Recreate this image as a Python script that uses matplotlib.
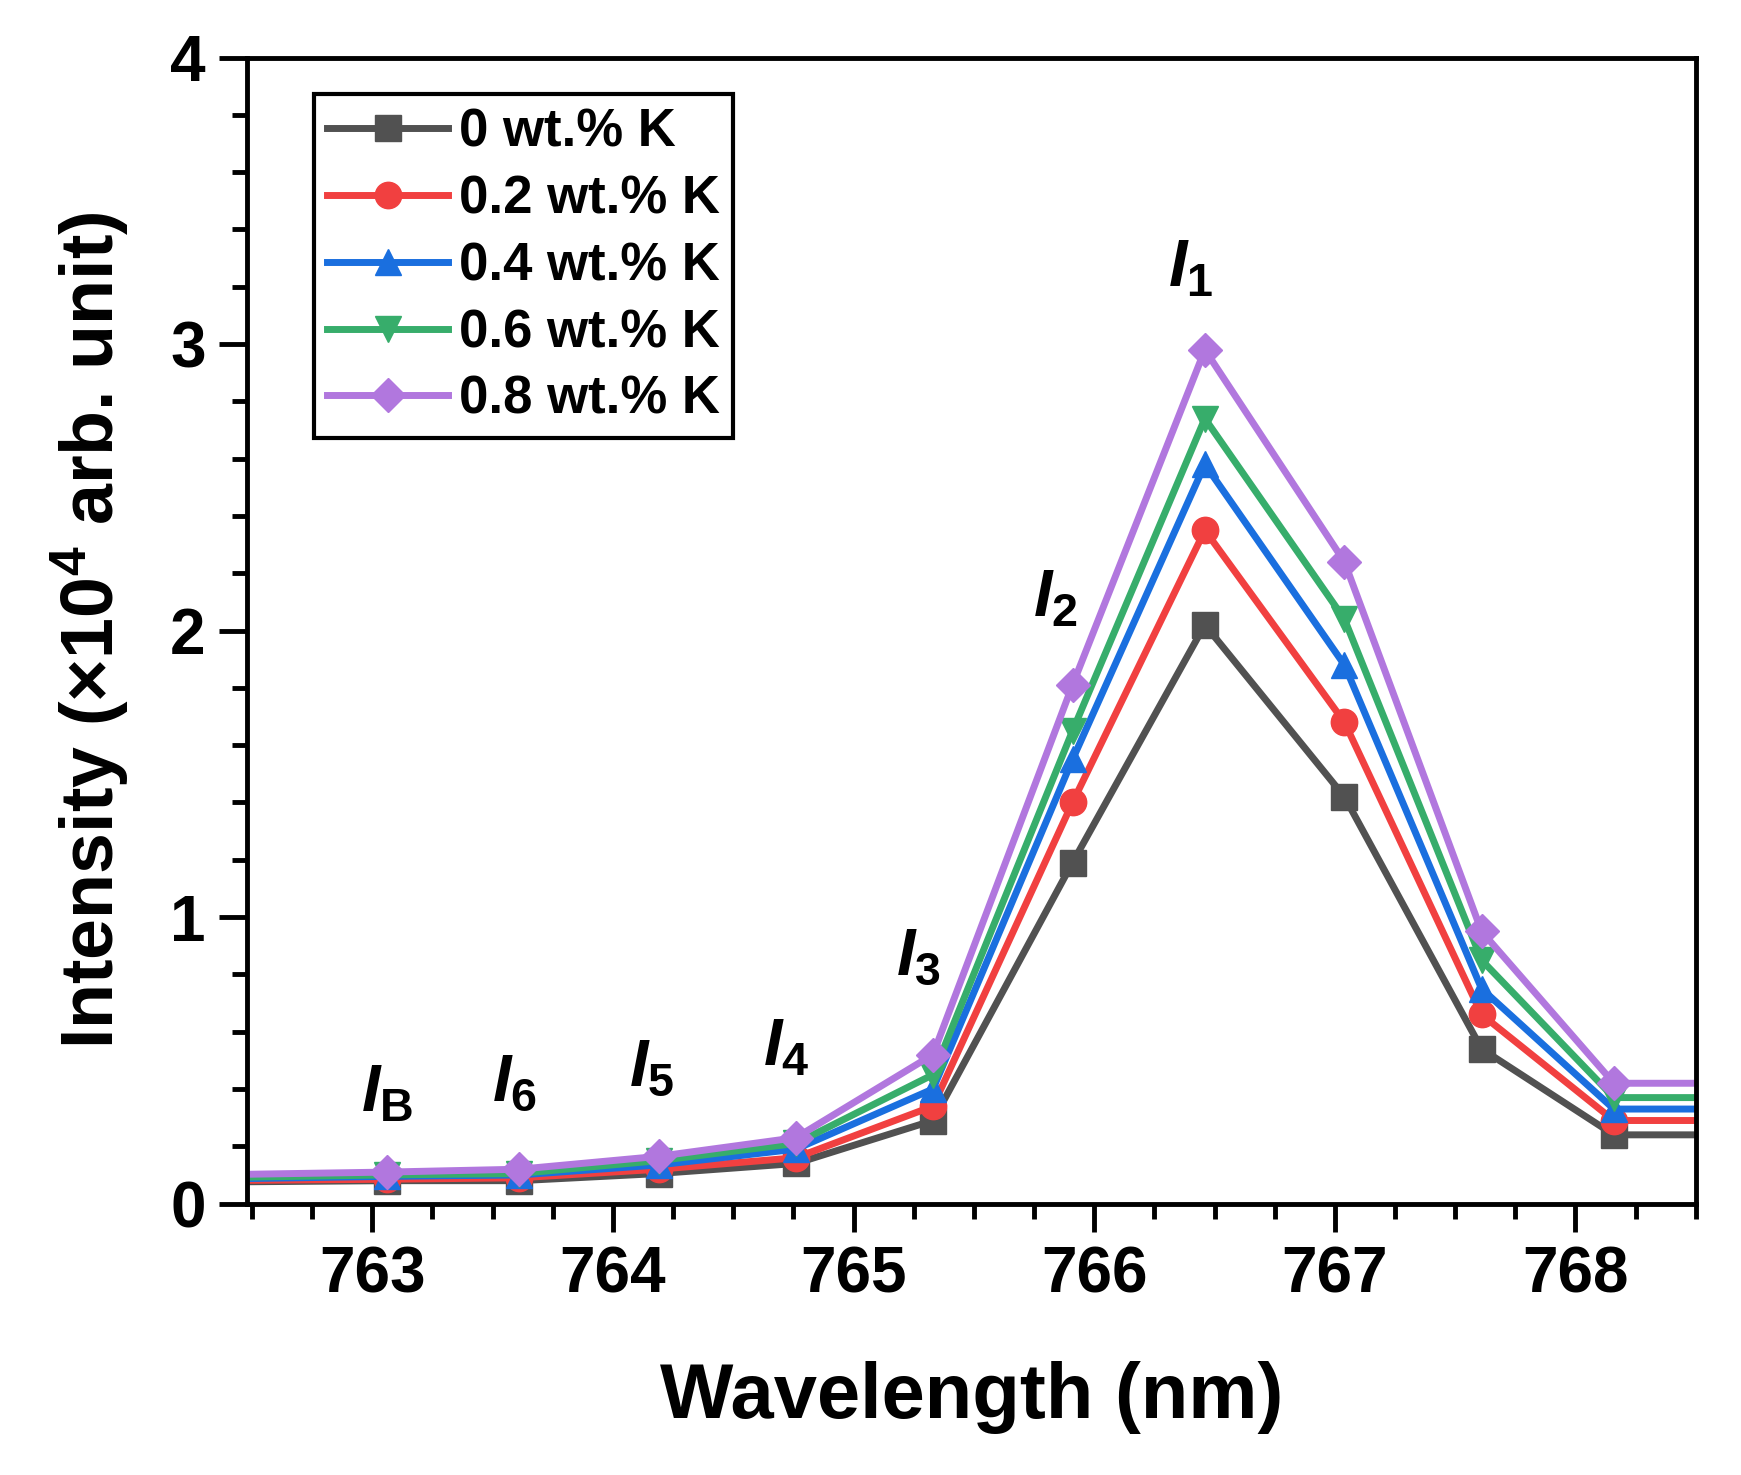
import matplotlib
matplotlib.use("Agg")
import matplotlib.pyplot as plt
from matplotlib.ticker import MultipleLocator

plt.rcParams['font.family'] = ['Liberation Sans', 'DejaVu Sans']
plt.rcParams['font.weight'] = 'bold'
plt.rcParams['mathtext.fontset'] = 'custom'
plt.rcParams['mathtext.rm'] = 'Liberation Sans:bold'
plt.rcParams['mathtext.it'] = 'Liberation Sans:bold:italic'
plt.rcParams['mathtext.bf'] = 'Liberation Sans:bold'

# wavelengths of the sampled points (nm); first/last extend to the frame edges
wavelength = [762.3, 763.06, 763.61, 764.19, 764.76, 765.33, 765.91, 766.46, 767.04, 767.61, 768.16, 768.8]

k0 = [0.075, 0.08, 0.08, 0.105, 0.14, 0.29, 1.19, 2.02, 1.42, 0.54, 0.24, 0.24]
k2 = [0.08, 0.085, 0.09, 0.12, 0.16, 0.34, 1.40, 2.35, 1.68, 0.66, 0.29, 0.29]
k4 = [0.085, 0.095, 0.10, 0.135, 0.19, 0.40, 1.55, 2.58, 1.88, 0.75, 0.33, 0.33]
k6 = [0.09, 0.10, 0.105, 0.15, 0.21, 0.45, 1.65, 2.74, 2.04, 0.85, 0.37, 0.37]
k8 = [0.10, 0.11, 0.12, 0.165, 0.23, 0.52, 1.81, 2.98, 2.24, 0.95, 0.42, 0.42]

labels = ['0 wt.% K', '0.2 wt.% K', '0.4 wt.% K', '0.6 wt.% K', '0.8 wt.% K']
colors = ['#515151', '#F14040', '#1A6FDF', '#37AD6B', '#B177DE']
markers = ['s', 'o', '^', 'v', 'D']

peak_names = [r'$I_{\mathrm{B}}$', r'$I_6$', r'$I_5$', r'$I_4$', r'$I_3$', r'$I_2$', r'$I_1$']
peak_x = [763.06, 763.59, 764.16, 764.72, 765.27, 765.84, 766.40]
peak_y = [0.38, 0.42, 0.47, 0.54, 0.86, 2.11, 3.26]

fig = plt.figure(figsize=(17.41, 14.75), dpi=100)
ax = fig.add_axes([0.142, 0.184, 0.832, 0.777])

for ys, lab, c, m in zip([k0, k2, k4, k6, k8], labels, colors, markers):
    ms = 17 if m == 'D' else 19
    ax.plot(wavelength, ys, color=c, marker=m, markersize=ms, linewidth=5, label=lab)

for name, x, y in zip(peak_names, peak_x, peak_y):
    ax.text(x, y, name, fontsize=48, ha='center', va='center')

ax.set_xlim(762.48, 768.5)
ax.set_ylim(0, 4)
ax.xaxis.set_major_locator(MultipleLocator(1))
ax.xaxis.set_minor_locator(MultipleLocator(0.25))
ax.yaxis.set_major_locator(MultipleLocator(1))
ax.yaxis.set_minor_locator(MultipleLocator(0.2))
ax.tick_params(which='both', direction='out', width=3.5, labelsize=46, pad=10)
ax.tick_params(which='major', length=20)
ax.tick_params(which='minor', length=11)
for s in ax.spines.values():
    s.set_linewidth(3.5)

ax.set_xlabel('Wavelength (nm)', fontsize=56, fontweight='bold', labelpad=40)
ax.set_ylabel(r'Intensity ($\times$10$^{4}$ arb. unit)', fontsize=53, fontweight='bold', labelpad=28)

leg = ax.legend(loc='upper left', bbox_to_anchor=(0.046, 0.968), borderaxespad=0,
                fontsize=38, handlelength=2.3, handletextpad=0.2, labelspacing=0.32,
                borderpad=0.25, fancybox=False, edgecolor='black', framealpha=1)
leg.get_frame().set_linewidth(3)

fig.savefig('out.png', dpi=100)
